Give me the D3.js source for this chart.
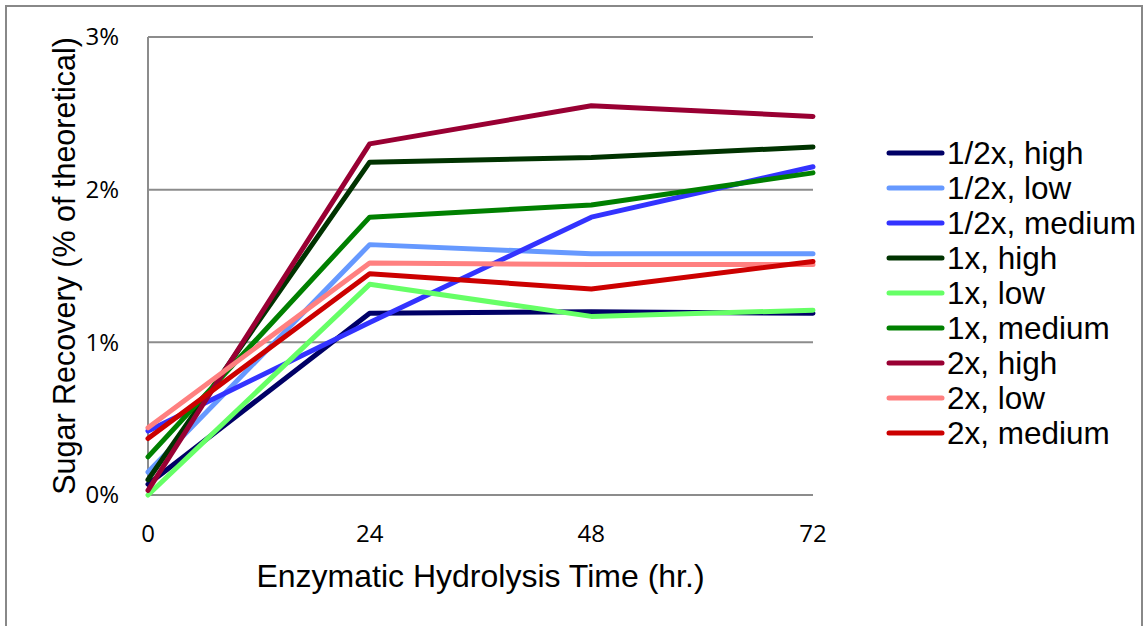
<!DOCTYPE html>
<html>
<head>
<meta charset="utf-8">
<script src="https://d3js.org/d3.v7.min.js"></script>
<style>
  body { margin: 0; background: #fff; }
  svg { display: block; }
  .tick-label { font-family: "Open Sans", sans-serif; font-size: 24px; fill: #000; }
  .title { font-family: "Liberation Sans", Arial, sans-serif; font-size: 32px; fill: #000; }
  .y-title { font-size: 30.5px; }
  .legend-text { font-family: "Liberation Sans", Arial, sans-serif; font-size: 31.5px; fill: #000; }
</style>
</head>
<body>
<div id="chart"></div>
<script>
// hours of hydrolysis
const times = [0, 24, 48, 72];
const yTicks = [0, 1, 2, 3];

const seriesNames = ["1/2x, high", "1/2x, low", "1/2x, medium", "1x, high", "1x, low", "1x, medium", "2x, high", "2x, low", "2x, medium"];
const seriesColors = ["#000066", "#6699ff", "#3333ff", "#003300", "#66ff66", "#008000", "#990033", "#ff8080", "#cc0000"];

// sugar recovery, % of theoretical
const halfHigh = [0.07, 1.19, 1.20, 1.19];
const halfLow = [0.15, 1.64, 1.58, 1.58];
const halfMedium = [0.42, 1.13, 1.82, 2.15];
const oneHigh = [0.10, 2.18, 2.21, 2.28];
const oneLow = [0.00, 1.38, 1.17, 1.21];
const oneMedium = [0.25, 1.82, 1.90, 2.11];
const twoHigh = [0.03, 2.30, 2.55, 2.48];
const twoLow = [0.44, 1.52, 1.51, 1.51];
const twoMedium = [0.37, 1.45, 1.35, 1.53];

const seriesValues = [halfHigh, halfLow, halfMedium, oneHigh, oneLow, oneMedium, twoHigh, twoLow, twoMedium];

const width = 1147, height = 626;
const plot = {left: 148, right: 813, top: 37, bottom: 495};

const svg = d3.select("#chart").append("svg")
    .attr("width", width)
    .attr("height", height);

// outer frame
svg.append("rect")
    .attr("x", 6).attr("y", 6)
    .attr("width", 1136).attr("height", 640)
    .attr("fill", "none").attr("stroke", "#888").attr("stroke-width", 2);

let x = d3.scaleLinear().domain([0, 72]).range([plot.left, plot.right]);
let y = d3.scaleLinear().domain([0, 3]).range([plot.bottom, plot.top]);

// gridlines
svg.append("g").selectAll("line")
    .data(yTicks)
    .enter().append("line")
    .attr("x1", plot.left).attr("x2", plot.right)
    .attr("y1", d => y(d)).attr("y2", d => y(d))
    .attr("stroke", "#8c8c8c").attr("stroke-width", 2);

// y axis line
svg.append("line")
    .attr("x1", plot.left).attr("x2", plot.left)
    .attr("y1", y(3)).attr("y2", y(0))
    .attr("stroke", "#8c8c8c").attr("stroke-width", 2);

// tick labels
svg.append("g").selectAll("text")
    .data(yTicks)
    .enter().append("text")
    .attr("class", "tick-label")
    .attr("x", 119)
    .attr("y", d => y(d))
    .attr("dy", "0.35em")
    .attr("text-anchor", "end")
    .text(d => d + "%");

svg.append("g").selectAll("text")
    .data(times)
    .enter().append("text")
    .attr("class", "tick-label")
    .attr("x", d => x(d))
    .attr("y", 542)
    .attr("text-anchor", "middle")
    .text(d => d);

// axis titles
svg.append("text")
    .attr("class", "title")
    .attr("x", (plot.left + plot.right) / 2)
    .attr("y", 587)
    .attr("text-anchor", "middle")
    .text("Enzymatic Hydrolysis Time (hr.)");

svg.append("text")
    .attr("class", "title y-title")
    .attr("transform", "translate(75," + ((plot.top + plot.bottom) / 2) + ") rotate(-90)")
    .attr("text-anchor", "middle")
    .text("Sugar Recovery (% of theoretical)");

// lines
let line = d3.line()
    .x((d, i) => x(times[i]))
    .y(d => y(d));

svg.append("g").selectAll("path")
    .data(seriesValues)
    .enter().append("path")
    .attr("d", d => line(d))
    .attr("fill", "none")
    .attr("stroke", (d, i) => seriesColors[i])
    .attr("stroke-width", 5)
    .attr("stroke-linejoin", "round")
    .attr("stroke-linecap", "round");

// legend
let legend = svg.append("g").selectAll("g")
    .data(seriesNames)
    .enter().append("g")
    .attr("transform", (d, i) => "translate(0," + (153 + i * 35) + ")");

legend.append("line")
    .attr("x1", 889).attr("x2", 942)
    .attr("y1", 0).attr("y2", 0)
    .attr("stroke", (d, i) => seriesColors[i])
    .attr("stroke-width", 5)
    .attr("stroke-linecap", "round");

legend.append("text")
    .attr("class", "legend-text")
    .attr("x", 947)
    .attr("dy", "0.35em")
    .text(d => d);
</script>
</body>
</html>
